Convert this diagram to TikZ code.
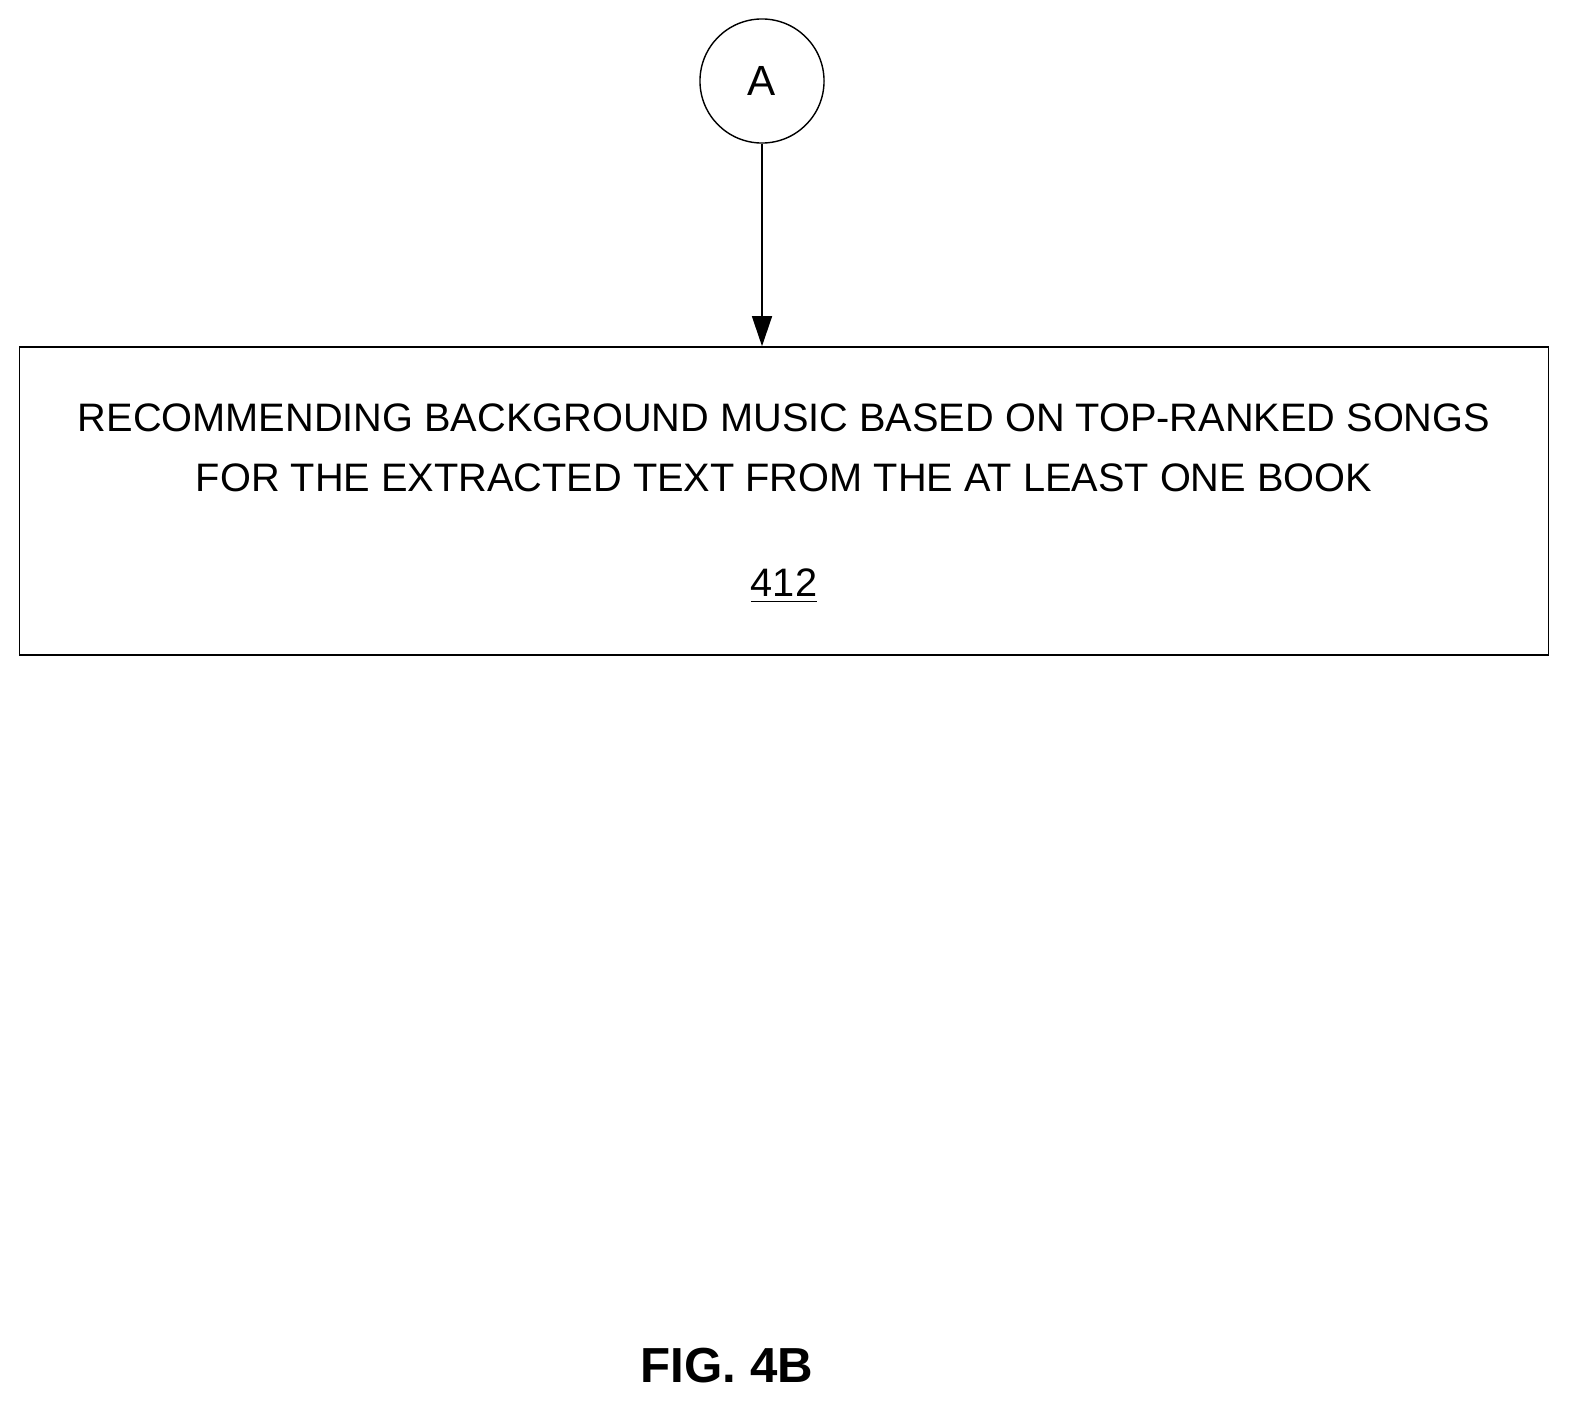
\documentclass[tikz,border=0pt]{standalone}
\usepackage{fontspec}
\setmainfont{Liberation Sans}
\usetikzlibrary{arrows.meta}

\begin{document}
\begin{tikzpicture}[x=0.01cm,y=-0.01cm,
    conn/.style={circle, draw, minimum size=1.24cm, inner sep=0pt, font=\fontsize{12pt}{14pt}\selectfont},
    stepbox/.style={draw, minimum width=15.28cm, minimum height=3.08cm},
    txt/.style={font=\fontsize{11.3pt}{17pt}\selectfont, align=center},
]

\useasboundingbox (0,0) rectangle (1591,1424);

\node [conn] (A) at (762,81) {A};

\node [stepbox] (S412) at (784,501) {};
\node [txt] (T412) at (784,448) {RECOMMENDING BACKGROUND MUSIC BASED ON TOP-RANKED SONGS\\FOR THE EXTRACTED TEXT FROM THE AT LEAST ONE BOOK};
\node [txt] (N412) at (784,586) {\underline{412}};

\draw [-{Triangle[length=0.3cm,width=0.2cm]}] (A) -- (A |- S412.north);

\node [font=\fontsize{14pt}{16pt}\selectfont\bfseries] (fig) at (727,1366) {FIG. 4B};

\end{tikzpicture}
\end{document}
